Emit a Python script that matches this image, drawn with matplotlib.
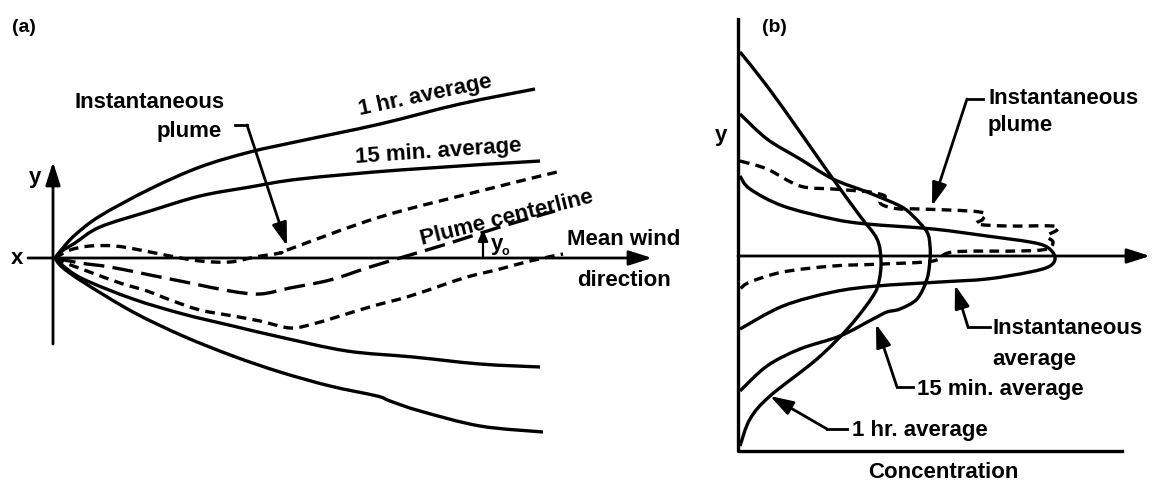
import matplotlib
matplotlib.use("Agg")
import matplotlib.pyplot as plt
from matplotlib.path import Path
from matplotlib.patches import PathPatch

plt.rcParams['font.family'] = ['Liberation Sans', 'DejaVu Sans']
plt.rcParams['font.weight'] = 'bold'
plt.rcParams['lines.scale_dashes'] = False

# ---- panel (a): plume outlines, x = downwind distance, y = lateral offset
hr1_top_x = [0, 7, 20, 45, 95, 145, 195, 245, 325, 405, 480]
hr1_top_y = [0, 9, 23, 42, 69, 91, 106, 117, 134, 154, 169]
min15_top_x = [0, 7, 20, 45, 95, 145, 195, 245, 345, 485]
min15_top_y = [0, 7, 15, 31, 47, 62, 71, 79, 88, 97]
inst_top_x = [0, 15, 35, 60, 85, 115, 145, 175, 200, 225, 235, 325, 425, 502]
inst_top_y = [0, 8, 12, 12, 8, 2, -3, -4, 1, 5, 9, 41, 67, 86]
center_x = [0, 25, 55, 95, 135, 175, 205, 235, 275, 315, 355, 395, 445, 500]
center_y = [0, -5, -9, -17, -25, -33, -36, -30, -22, -9, 3, 15, 31, 47]
inst_bot_x = [0, 5, 32, 65, 92, 118, 145, 178, 205, 235, 258, 285, 318, 352, 385, 412, 445, 475, 508]
inst_bot_y = [0, -3, -13, -25, -33, -43, -52, -58, -63, -70, -66, -58, -48, -39, -28, -19, -11, -3, 4]
min15_bot_x = [0, 7, 28, 78, 128, 178, 225, 292, 358, 425, 485]
min15_bot_y = [0, -7, -21, -41, -56, -68, -79, -93, -99, -106, -109]
hr1_bot_x = [0, 7, 28, 78, 128, 178, 225, 275, 322, 335, 365, 425, 488]
hr1_bot_y = [0, -9, -24, -54, -78, -98, -114, -128, -138, -143, -153, -168, -174]

# ---- panel (b): concentration profiles, x = concentration, y = lateral offset
b_hr1_c = [2, 29, 62, 95, 122, 139, 143, 141, 135, 112, 79, 32, 12, 2]
b_hr1_y = [204, 170, 124, 77, 40, 17, -5, -25, -40, -70, -103, -140, -163, -190]
b_min15_c = [2, 29, 62, 95, 129, 162, 175, 189, 192, 192, 189, 179, 162, 149, 135, 102, 62, 29, 2]
b_min15_y = [142, 117, 97, 77, 64, 50, 40, 24, 10, -3, -23, -43, -53, -56, -63, -80, -93, -110, -135]
b_instavg_c = [2, 12, 45, 95, 129, 195, 249, 292, 309, 317, 312, 292, 249, 202, 139, 95, 45, 2]
b_instavg_y = [80, 67, 50, 37, 32, 27, 20, 14, 9, -1, -10, -16, -23, -26, -30, -36, -50, -73]
b_inst_c = [2, 29, 62, 95, 122, 132, 147, 142, 147, 162, 182, 242, 245, 239, 269, 315, 319, 309,
            315, 309, 282, 215, 195, 145, 95, 45, 12, 2]
b_inst_y = [95, 87, 70, 67, 65, 64, 60, 54, 50, 47, 47, 44, 37, 32, 30, 30, 26, 20,
            14, 7, 5, 4, -5, -8, -10, -16, -26, -33]


def smooth_path(xs, ys):
    # bezier segments through the read points (catmull-rom handles)
    pts = list(zip(xs, ys))
    verts = [pts[0]]
    codes = [Path.MOVETO]
    n = len(pts)
    for i in range(n - 1):
        p0 = pts[i - 1] if i > 0 else pts[i]
        p1 = pts[i]
        p2 = pts[i + 1]
        p3 = pts[i + 2] if i + 2 < n else pts[i + 1]
        c1 = (p1[0] + (p2[0] - p0[0]) / 6, p1[1] + (p2[1] - p0[1]) / 6)
        c2 = (p2[0] - (p3[0] - p1[0]) / 6, p2[1] - (p3[1] - p1[1]) / 6)
        verts += [c1, c2, p2]
        codes += [Path.CURVE4] * 3
    return Path(verts, codes)


def curve(ax, xs, ys, ls='-'):
    ax.add_patch(PathPatch(smooth_path(xs, ys), facecolor='none', edgecolor='k',
                           lw=2.4, linestyle=ls, capstyle='butt', joinstyle='round'))


fig = plt.figure(figsize=(11.52, 4.85), dpi=100)
ax_a = fig.add_axes([0, 0, 700 / 1152, 1])
ax_b = fig.add_axes([700 / 1152, 0, 452 / 1152, 1])
ax_a.set_xlim(-55, 645)
ax_a.set_ylim(-226, 259)
ax_b.set_xlim(-38, 414)
ax_b.set_ylim(-228, 257)
for ax in (ax_a, ax_b):
    ax.axis('off')

short_dash = (0, (7, 4.5))
long_dash = (0, (15, 6))
arrow = dict(arrowstyle='-|>,head_length=1.0,head_width=0.32', color='k', lw=2,
             shrinkA=0, shrinkB=0, mutation_scale=14)
txt = dict(fontsize=16, fontweight='bold', color='k')

# panel (a)
ax_a.annotate('', xy=(597, 0), xytext=(-27, 0), arrowprops=arrow)
ax_a.annotate('', xy=(-2, 96), xytext=(-2, -86), arrowprops=arrow)
curve(ax_a, hr1_top_x, hr1_top_y)
curve(ax_a, min15_top_x, min15_top_y)
curve(ax_a, min15_bot_x, min15_bot_y)
curve(ax_a, hr1_bot_x, hr1_bot_y)
curve(ax_a, inst_top_x, inst_top_y, short_dash)
curve(ax_a, inst_bot_x, inst_bot_y, short_dash)
curve(ax_a, center_x, center_y, long_dash)

ax_a.text(-43, 232, '(a)', ha='left', va='center', fontsize=14, fontweight='bold')
ax_a.text(-38, 0, 'x', ha='center', va='center', **txt)
ax_a.text(-20, 81, 'y', ha='center', va='center', **txt)
ax_a.text(170, 156, 'Instantaneous', ha='right', va='center', **txt)
ax_a.text(167, 128, 'plume', ha='right', va='center', **txt)
ax_a.plot([180, 192], [133, 133], color='k', lw=2)
ax_a.annotate('', xy=(232, 12), xytext=(192, 133), arrowprops=arrow)
ax_a.text(370, 163, '1 hr. average', ha='center', va='center', rotation=12, **txt)
ax_a.text(383, 107, '15 min. average', ha='center', va='center', rotation=4, **txt)
ax_a.text(452, 41, 'Plume centerline', ha='center', va='center', rotation=14, **txt)
ax_a.annotate('', xy=(428, 29), xytext=(428, 0),
              arrowprops=dict(arrowstyle='-|>,head_length=0.6,head_width=0.25', color='k',
                              lw=1.6, shrinkA=0, shrinkB=0, mutation_scale=12))
ax_a.text(436, 14, 'y', ha='left', va='center', **txt)
ax_a.text(447, 7, 'o', ha='left', va='center', fontsize=9, fontweight='bold')
ax_a.text(569, 19, 'Mean wind', ha='center', va='center', **txt)
ax_a.text(569, -21, 'direction', ha='center', va='center', **txt)

# panel (b)
ax_b.plot([0, 0, 384], [237, -195, -195], color='k', lw=2.4)
ax_b.annotate('', xy=(412, 0), xytext=(0, 0), arrowprops=arrow)
curve(ax_b, b_hr1_c, b_hr1_y)
curve(ax_b, b_min15_c, b_min15_y)
curve(ax_b, b_instavg_c, b_instavg_y)
curve(ax_b, b_inst_c, b_inst_y, short_dash)

ax_b.text(24, 230, '(b)', ha='left', va='center', fontsize=14, fontweight='bold')
ax_b.text(-17, 122, 'y', ha='center', va='center', **txt)
ax_b.text(205, -216, 'Concentration', ha='center', va='center', **txt)

ax_b.text(250, 159, 'Instantaneous', ha='left', va='center', **txt)
ax_b.text(250, 132, 'plume', ha='left', va='center', **txt)
ax_b.plot([245, 229], [157, 157], color='k', lw=2)
ax_b.annotate('', xy=(194, 50), xytext=(229, 157), arrowprops=arrow)

ax_b.text(254, -72, 'Instantaneous', ha='left', va='center', **txt)
ax_b.text(254, -103, 'average', ha='left', va='center', **txt)
ax_b.plot([252, 230], [-71, -71], color='k', lw=2)
ax_b.annotate('', xy=(217, -29), xytext=(230, -71), arrowprops=arrow)

ax_b.text(179, -133, '15 min. average', ha='left', va='center', **txt)
ax_b.plot([175, 159], [-131, -131], color='k', lw=2)
ax_b.annotate('', xy=(138, -68), xytext=(159, -131), arrowprops=arrow)

ax_b.text(114, -174, '1 hr. average', ha='left', va='center', **txt)
ax_b.plot([109, 89], [-173, -173], color='k', lw=2)
ax_b.annotate('', xy=(32, -140), xytext=(89, -173), arrowprops=arrow)

fig.savefig('out.png', dpi=100, facecolor='white')
